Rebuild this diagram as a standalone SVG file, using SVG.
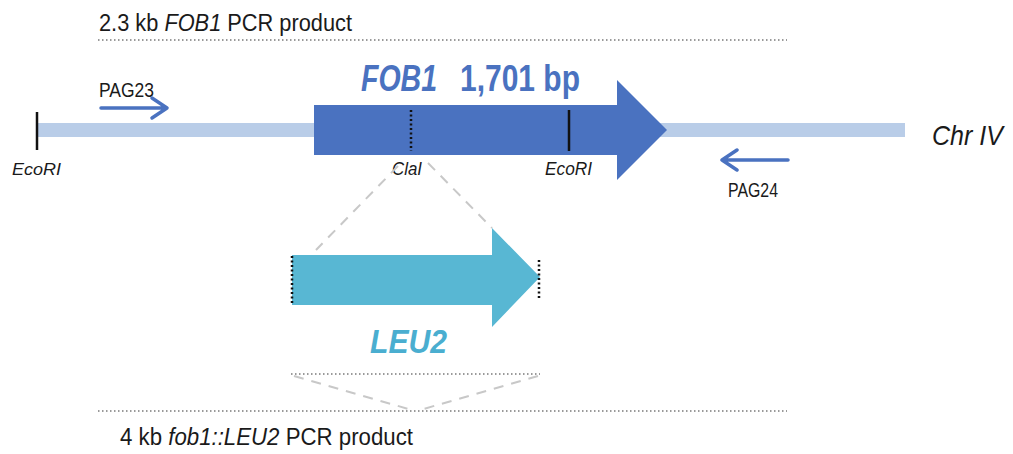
<svg xmlns="http://www.w3.org/2000/svg" width="1013" height="454" viewBox="0 0 1013 454">
<style>
.t{font-family:"Liberation Sans",Arial,sans-serif;fill:#1a1a1a}
.i{font-style:italic}
.dot{stroke:#9a9a9a;stroke-width:2;stroke-dasharray:1.5 2.5;fill:none}
.dash{stroke:#c8c8c8;stroke-width:2;stroke-dasharray:10 8;fill:none}
.primer{stroke:#4a72c0;stroke-width:3.5;fill:none;stroke-linecap:round;stroke-linejoin:round}
.cut{stroke:#111;stroke-width:2.5}
.cutd{stroke:#111;stroke-width:2.5;stroke-dasharray:2 2.5}
</style>
<rect width="1013" height="454" fill="#fff"/>
<g id="top-product">
<text class="t" x="99" y="31" font-size="23" textLength="253" lengthAdjust="spacingAndGlyphs">2.3 kb <tspan class="i">FOB1</tspan> PCR product</text>
<line class="dot" x1="98" y1="40" x2="787" y2="40"/>
</g>
<g id="chromosome">
<rect x="38" y="123" width="867" height="14" fill="#b9cde8"/>
<line class="cut" x1="37" y1="112" x2="37" y2="150"/>
<text class="t i" x="12" y="175" font-size="17" textLength="49" lengthAdjust="spacingAndGlyphs">EcoRI</text>
<text class="t i" x="932" y="145" font-size="28" textLength="71" lengthAdjust="spacingAndGlyphs">Chr IV</text>
</g>
<g id="fob1">
<polygon points="314,105 617,105 617,80 667,130 617,180 617,155 314,155" fill="#4a72c0"/>
<line class="cutd" x1="411" y1="110" x2="411" y2="151"/>
<line class="cut" x1="569" y1="110" x2="569" y2="151"/>
<text x="361" y="91" font-family="Liberation Sans,Arial,sans-serif" font-weight="bold" font-style="italic" font-size="37" fill="#4a72c0" textLength="76" lengthAdjust="spacingAndGlyphs">FOB1</text>
<text x="460" y="91" font-family="Liberation Sans,Arial,sans-serif" font-weight="bold" font-size="37" fill="#4a72c0" textLength="120" lengthAdjust="spacingAndGlyphs">1,701 bp</text>
<text class="t i" x="392" y="175" font-size="18" textLength="30" lengthAdjust="spacingAndGlyphs">ClaI</text>
<text class="t i" x="545" y="175" font-size="18" textLength="47" lengthAdjust="spacingAndGlyphs">EcoRI</text>
</g>
<g id="pag23">
<text class="t" x="99" y="97" font-size="20" textLength="55" lengthAdjust="spacingAndGlyphs">PAG23</text>
<path class="primer" d="M101,108 H167 M152,98 L167,108 L152,118"/>
</g>
<g id="pag24">
<text class="t" x="728" y="197" font-size="20" textLength="50" lengthAdjust="spacingAndGlyphs">PAG24</text>
<path class="primer" d="M788,160 H722 M737,150 L722,160 L737,170"/>
</g>
<g id="connectors">
<line class="dash" x1="398" y1="166" x2="316" y2="250"/>
<line class="dash" x1="428" y1="163" x2="492" y2="228"/>
<line class="dash" x1="294" y1="376" x2="412" y2="410"/>
<line class="dash" x1="538" y1="376" x2="420" y2="410"/>
</g>
<g id="leu2">
<polygon points="292,255 492,255 492,228 540,277 492,327 492,305 292,305" fill="#58b7d3"/>
<line class="cutd" x1="292" y1="256" x2="292" y2="305"/>
<line class="cutd" x1="539" y1="260" x2="539" y2="300"/>
<text x="370" y="353" font-family="Liberation Sans,Arial,sans-serif" font-weight="bold" font-style="italic" font-size="33" fill="#4aaed0" textLength="77" lengthAdjust="spacingAndGlyphs">LEU2</text>
<line class="dot" x1="291" y1="374" x2="540" y2="374"/>
</g>
<g id="bottom-product">
<line class="dot" x1="98" y1="411" x2="787" y2="411"/>
<text class="t" x="120" y="445" font-size="23" textLength="293" lengthAdjust="spacingAndGlyphs">4 kb <tspan class="i">fob1::LEU2</tspan>  PCR product</text>
</g>
</svg>
